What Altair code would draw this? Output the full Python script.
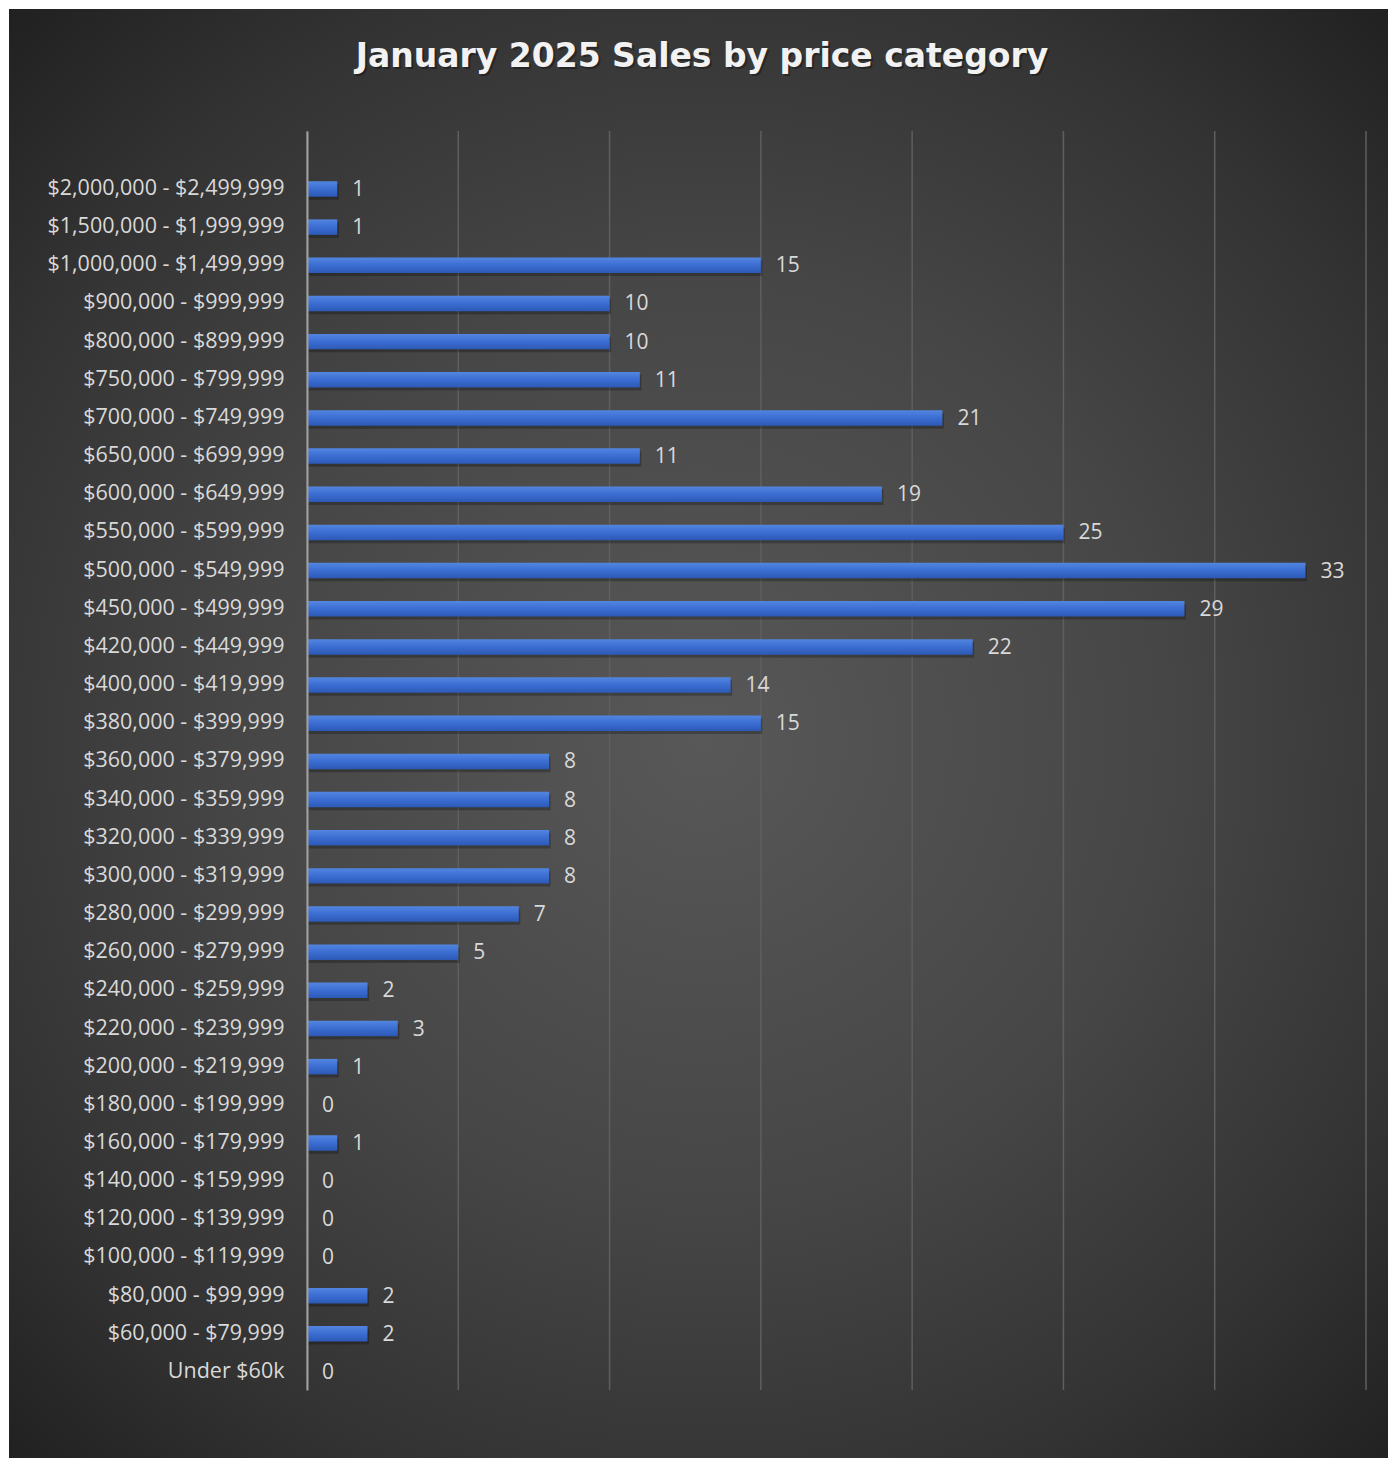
import altair as alt
import pandas as pd

categories = [
    "$2,000,000 - $2,499,999", "$1,500,000 - $1,999,999", "$1,000,000 - $1,499,999",
    "$900,000 - $999,999", "$800,000 - $899,999", "$750,000 - $799,999",
    "$700,000 - $749,999", "$650,000 - $699,999", "$600,000 - $649,999",
    "$550,000 - $599,999", "$500,000 - $549,999", "$450,000 - $499,999",
    "$420,000 - $449,999", "$400,000 - $419,999", "$380,000 - $399,999",
    "$360,000 - $379,999", "$340,000 - $359,999", "$320,000 - $339,999",
    "$300,000 - $319,999", "$280,000 - $299,999", "$260,000 - $279,999",
    "$240,000 - $259,999", "$220,000 - $239,999", "$200,000 - $219,999",
    "$180,000 - $199,999", "$160,000 - $179,999", "$140,000 - $159,999",
    "$120,000 - $139,999", "$100,000 - $119,999", "$80,000 - $99,999",
    "$60,000 - $79,999", "Under $60k",
]
sales = [1, 1, 15, 10, 10, 11, 21, 11, 19, 25, 33, 29, 22, 14, 15,
         8, 8, 8, 8, 7, 5, 2, 3, 1, 0, 1, 0, 0, 0, 2, 2, 0]
grid_ticks = [0, 5, 10, 15, 20, 25, 30, 35]
title_text = "January 2025 Sales by price category"

df = pd.DataFrame({"category": categories, "sales": sales})
grid_df = pd.DataFrame({"t": grid_ticks})
one = pd.DataFrame({"a": [0]})

W, H = 1059, 1259
PAD = {"left": 307, "top": 131, "right": 22, "bottom": 68}

xscale = alt.Scale(domain=[0, 35], nice=False, zero=True)
yscale = alt.Scale(paddingInner=0.594, paddingOuter=0.793, align=0.83)

bg_gradient = alt.RadialGradient(
    gradient="radial", x1=0.5, y1=0.5, r1=0, x2=0.5, y2=0.5, r2=0.71,
    stops=[
        alt.GradientStop(offset=0, color="#585858"),
        alt.GradientStop(offset=0.45, color="#464646"),
        alt.GradientStop(offset=0.75, color="#333333"),
        alt.GradientStop(offset=1, color="#1e1e1e"),
    ],
)
bar_gradient = alt.LinearGradient(
    gradient="linear", x1=0, y1=0, x2=0, y2=1,
    stops=[
        alt.GradientStop(offset=0, color="#5286e0"),
        alt.GradientStop(offset=0.5, color="#3b6dd2"),
        alt.GradientStop(offset=1, color="#2c59b5"),
    ],
)

background = alt.Chart(one).mark_rect(fill=bg_gradient, stroke=None).encode(
    x=alt.value(-298), x2=alt.value(W + PAD["right"] + 10),
    y=alt.value(-122), y2=alt.value(H + PAD["bottom"] + 10),
)

title_style = dict(
    text=title_text, font="DejaVu Sans", fontSize=33, fontWeight="bold",
    align="center", baseline="alphabetic",
)
title_shadow = alt.Chart(one).mark_text(color="black", opacity=0.3, **title_style).encode(
    x=alt.value(397), y=alt.value(-62)
)
title = alt.Chart(one).mark_text(color="#f2f2f2", **title_style).encode(
    x=alt.value(395), y=alt.value(-64)
)

grid = alt.Chart(grid_df).mark_rule(color="#5f5f5f", strokeWidth=1.5).encode(
    x=alt.X("t:Q", scale=xscale, axis=None)
)

y_enc = alt.Y(
    "category:N", sort=categories, scale=yscale, title=None,
    axis=alt.Axis(
        ticks=False, labelPadding=23, labelFont="Open Sans", labelFontSize=21.5,
        labelColor="#d9d9d9", labelLimit=400, domainColor="#a0a0a0",
        domainWidth=2, grid=False, zindex=1,
    ),
)

shadow = alt.Chart(df).mark_bar(color="black", opacity=0.25, yOffset=3, xOffset=1.5).encode(
    x=alt.X("sales:Q", scale=xscale, axis=None),
    y=y_enc,
)

bars = alt.Chart(df).mark_bar(fill=bar_gradient).encode(
    x=alt.X("sales:Q", scale=xscale, axis=None),
    y=y_enc,
)

labels = alt.Chart(df).mark_text(
    align="left", baseline="middle", dx=15, dy=1, font="Open Sans", fontSize=21,
    color="#d9d9d9",
).encode(
    x=alt.X("sales:Q", scale=xscale, axis=None),
    y=y_enc,
    text=alt.Text("sales:Q"),
)

chart = alt.layer(background, grid, shadow, bars, labels, title_shadow, title).properties(
    width=W, height=H,
    autosize=alt.AutoSizeParams(type="none"),
    padding=PAD,
    background="white",
).configure_view(stroke=None)

chart.save("out.html", embed_options={"renderer": "svg", "actions": False})
